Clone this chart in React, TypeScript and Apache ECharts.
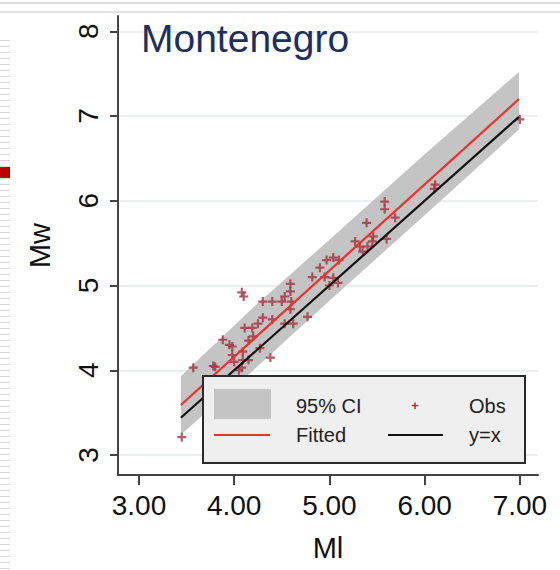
import React, { useEffect, useRef } from "react";
import * as echarts from "echarts";

// Observations (Ml, Mw)
const obsMl = [
  3.45, 3.57, 3.78, 3.80, 3.88, 3.95, 3.98, 3.98, 4.00, 4.05,
  4.08, 4.10, 4.08, 4.09, 4.09, 4.15, 4.11, 4.19, 4.15, 4.20,
  4.27, 4.38, 4.30, 4.25, 4.40, 4.30, 4.40, 4.50, 4.60, 4.59,
  4.59, 4.59, 4.53, 4.53, 4.62, 4.77, 4.82, 4.90, 4.97, 5.04,
  5.10, 4.95, 5.09, 5.04, 5.00, 5.27, 5.32, 5.40, 5.46, 5.39,
  5.35, 5.45, 5.58, 5.58, 5.69, 5.60, 6.11, 6.10, 7.00,
];
const obsMw = [
  3.21, 4.03, 4.05, 4.04, 4.36, 4.30, 4.28, 4.18, 4.10, 4.00,
  4.92, 4.87, 4.03, 4.22, 4.12, 4.12, 4.50, 4.50, 4.35, 4.40,
  4.26, 4.15, 4.62, 4.55, 4.60, 4.81, 4.81, 4.81, 4.81, 5.02,
  4.93, 4.72, 4.87, 4.55, 4.55, 4.63, 5.10, 5.21, 5.30, 5.33,
  5.30, 5.10, 5.03, 5.09, 5.00, 5.52, 5.46, 5.46, 5.58, 5.74,
  5.40, 5.52, 5.99, 5.90, 5.80, 5.55, 6.19, 6.14, 6.96,
];

// Fitted line
const fitMl = [3.44, 6.99];
const fitMw = [3.59, 7.2];

// y = x reference
const diagMl = [3.44, 6.99];
const diagMw = [3.44, 6.99];

// 95% CI band
const ciMl = [3.44, 4.2, 5.0, 6.0, 6.99];
const ciLow = [3.24, 4.0, 4.82, 5.83, 6.84];
const ciHigh = [3.93, 4.74, 5.54, 6.55, 7.52];

const xTicks = [3, 4, 5, 6, 7];
const yTicks = [3, 4, 5, 6, 7, 8];

const FONT = "'Liberation Sans', Arial, Helvetica, sans-serif";
const OBS_COLOR = "#a3323f";
const FIT_COLOR = "#e8322c";
const CI_COLOR = "#c4c4c4";
const PLUS = "path://M3.4,0H5.6V3.4H9V5.6H5.6V9H3.4V5.6H0V3.4H3.4Z";

export default function App() {
  const ref = useRef<HTMLDivElement>(null);

  useEffect(() => {
    document.body.style.margin = "0";
    if (!ref.current) return;
    const chart = echarts.init(ref.current, undefined, { renderer: "svg" });

    const stripes: any[] = [];
    for (let y = 40; y < 570; y += 6) {
      stripes.push({
        type: "rect",
        shape: { x: 0, y, width: 10, height: 1 },
        style: { fill: "#d8d8d8" },
        silent: true,
      });
    }

    const legendItems: any[] = [
      {
        type: "rect",
        z: 100,
        shape: { x: 203, y: 376, width: 322, height: 87 },
        style: { fill: "#efefef", stroke: "#2b2b2b", lineWidth: 2 },
      },
      {
        type: "rect",
        z: 101,
        shape: { x: 214, y: 389, width: 57, height: 30 },
        style: { fill: CI_COLOR },
      },
      {
        type: "text",
        z: 101,
        x: 296,
        y: 406,
        style: { text: "95% CI", font: `20px ${FONT}`, fill: "#222", verticalAlign: "middle" },
      },
      {
        type: "text",
        z: 101,
        x: 415,
        y: 405,
        style: { text: "+", font: `bold 13px ${FONT}`, fill: OBS_COLOR, align: "center", verticalAlign: "middle" },
      },
      {
        type: "text",
        z: 101,
        x: 469,
        y: 406,
        style: { text: "Obs", font: `20px ${FONT}`, fill: "#222", verticalAlign: "middle" },
      },
      {
        type: "line",
        z: 101,
        shape: { x1: 214, y1: 435, x2: 270, y2: 435 },
        style: { stroke: FIT_COLOR, lineWidth: 2 },
      },
      {
        type: "text",
        z: 101,
        x: 296,
        y: 435,
        style: { text: "Fitted", font: `20px ${FONT}`, fill: "#222", verticalAlign: "middle" },
      },
      {
        type: "line",
        z: 101,
        shape: { x1: 388, y1: 435, x2: 443, y2: 435 },
        style: { stroke: "#111", lineWidth: 2 },
      },
      {
        type: "text",
        z: 101,
        x: 469,
        y: 435,
        style: { text: "y=x", font: `20px ${FONT}`, fill: "#222", verticalAlign: "middle" },
      },
    ];

    const option: any = {
      animation: false,
      backgroundColor: "#ffffff",
      textStyle: { fontFamily: FONT },
      title: {
        text: "Montenegro",
        left: 136,
        top: 14,
        textStyle: { fontSize: 39, fontWeight: "normal", color: "#1c2f5e", fontFamily: FONT },
      },
      grid: { left: 118, right: 22, top: 16, bottom: 95, containLabel: false },
      xAxis: {
        type: "value",
        min: 2.78,
        max: 7.19,
        name: "Ml",
        nameLocation: "middle",
        nameGap: 58,
        nameTextStyle: { fontSize: 29, color: "#111", fontFamily: FONT },
        axisLine: { show: true, lineStyle: { color: "#444", width: 2 } },
        axisTick: { show: true, length: 10, customValues: xTicks, lineStyle: { color: "#444", width: 2 } },
        axisLabel: {
          customValues: xTicks,
          fontSize: 28,
          color: "#111",
          margin: 16,
          fontFamily: FONT,
          formatter: (v: number) => v.toFixed(2),
        },
        splitLine: { show: false },
      },
      yAxis: {
        type: "value",
        min: 2.764,
        max: 8.18,
        name: "Mw",
        nameLocation: "middle",
        nameGap: 64,
        nameTextStyle: { fontSize: 29, color: "#111", fontFamily: FONT },
        axisLine: { show: true, lineStyle: { color: "#444", width: 2 } },
        axisTick: { show: true, length: 8, customValues: yTicks, lineStyle: { color: "#444", width: 2 } },
        axisLabel: {
          customValues: yTicks,
          rotate: 90,
          fontSize: 28,
          color: "#111",
          margin: 16,
          fontFamily: FONT,
          formatter: (v: number) => String(Math.round(v)),
        },
        splitLine: { show: true, lineStyle: { color: "#e4eaee", width: 1.5 } },
      },
      series: [
        {
          name: "95% CI",
          type: "custom",
          z: 1,
          silent: true,
          data: ciMl.map((x, i) => [x, ciLow[i], ciHigh[i]]),
          encode: { x: 0, y: [1, 2] },
          renderItem: (params: any, api: any) => {
            if (params.dataIndex !== 0) return null;
            const pts: number[][] = [];
            for (let i = 0; i < ciMl.length; i++) pts.push(api.coord([ciMl[i], ciHigh[i]]));
            for (let i = ciMl.length - 1; i >= 0; i--) pts.push(api.coord([ciMl[i], ciLow[i]]));
            return { type: "polygon", shape: { points: pts }, style: { fill: CI_COLOR } };
          },
        },
        {
          name: "Obs",
          type: "scatter",
          z: 2,
          symbol: PLUS,
          symbolSize: 9,
          itemStyle: { color: OBS_COLOR },
          data: obsMl.map((x, i) => [x, obsMw[i]]),
        },
        {
          name: "Fitted",
          type: "line",
          z: 3,
          symbol: "none",
          lineStyle: { color: FIT_COLOR, width: 2.2 },
          data: fitMl.map((x, i) => [x, fitMw[i]]),
        },
        {
          name: "y=x",
          type: "line",
          z: 4,
          symbol: "none",
          lineStyle: { color: "#111", width: 2.2 },
          data: diagMl.map((x, i) => [x, diagMw[i]]),
        },
      ],
      graphic: [
        { type: "rect", shape: { x: 0, y: 2, width: 560, height: 2 }, style: { fill: "#dcdcdc" }, silent: true },
        { type: "rect", shape: { x: 0, y: 11, width: 560, height: 2 }, style: { fill: "#e2e2e2" }, silent: true },
        ...stripes,
        { type: "rect", shape: { x: 0, y: 167, width: 10, height: 11 }, style: { fill: "#c00000" }, silent: true },
        ...legendItems,
      ],
    };

    chart.setOption(option);
    return () => chart.dispose();
  }, []);

  return <div ref={ref} style={{ width: 560, height: 570 }} />;
}
